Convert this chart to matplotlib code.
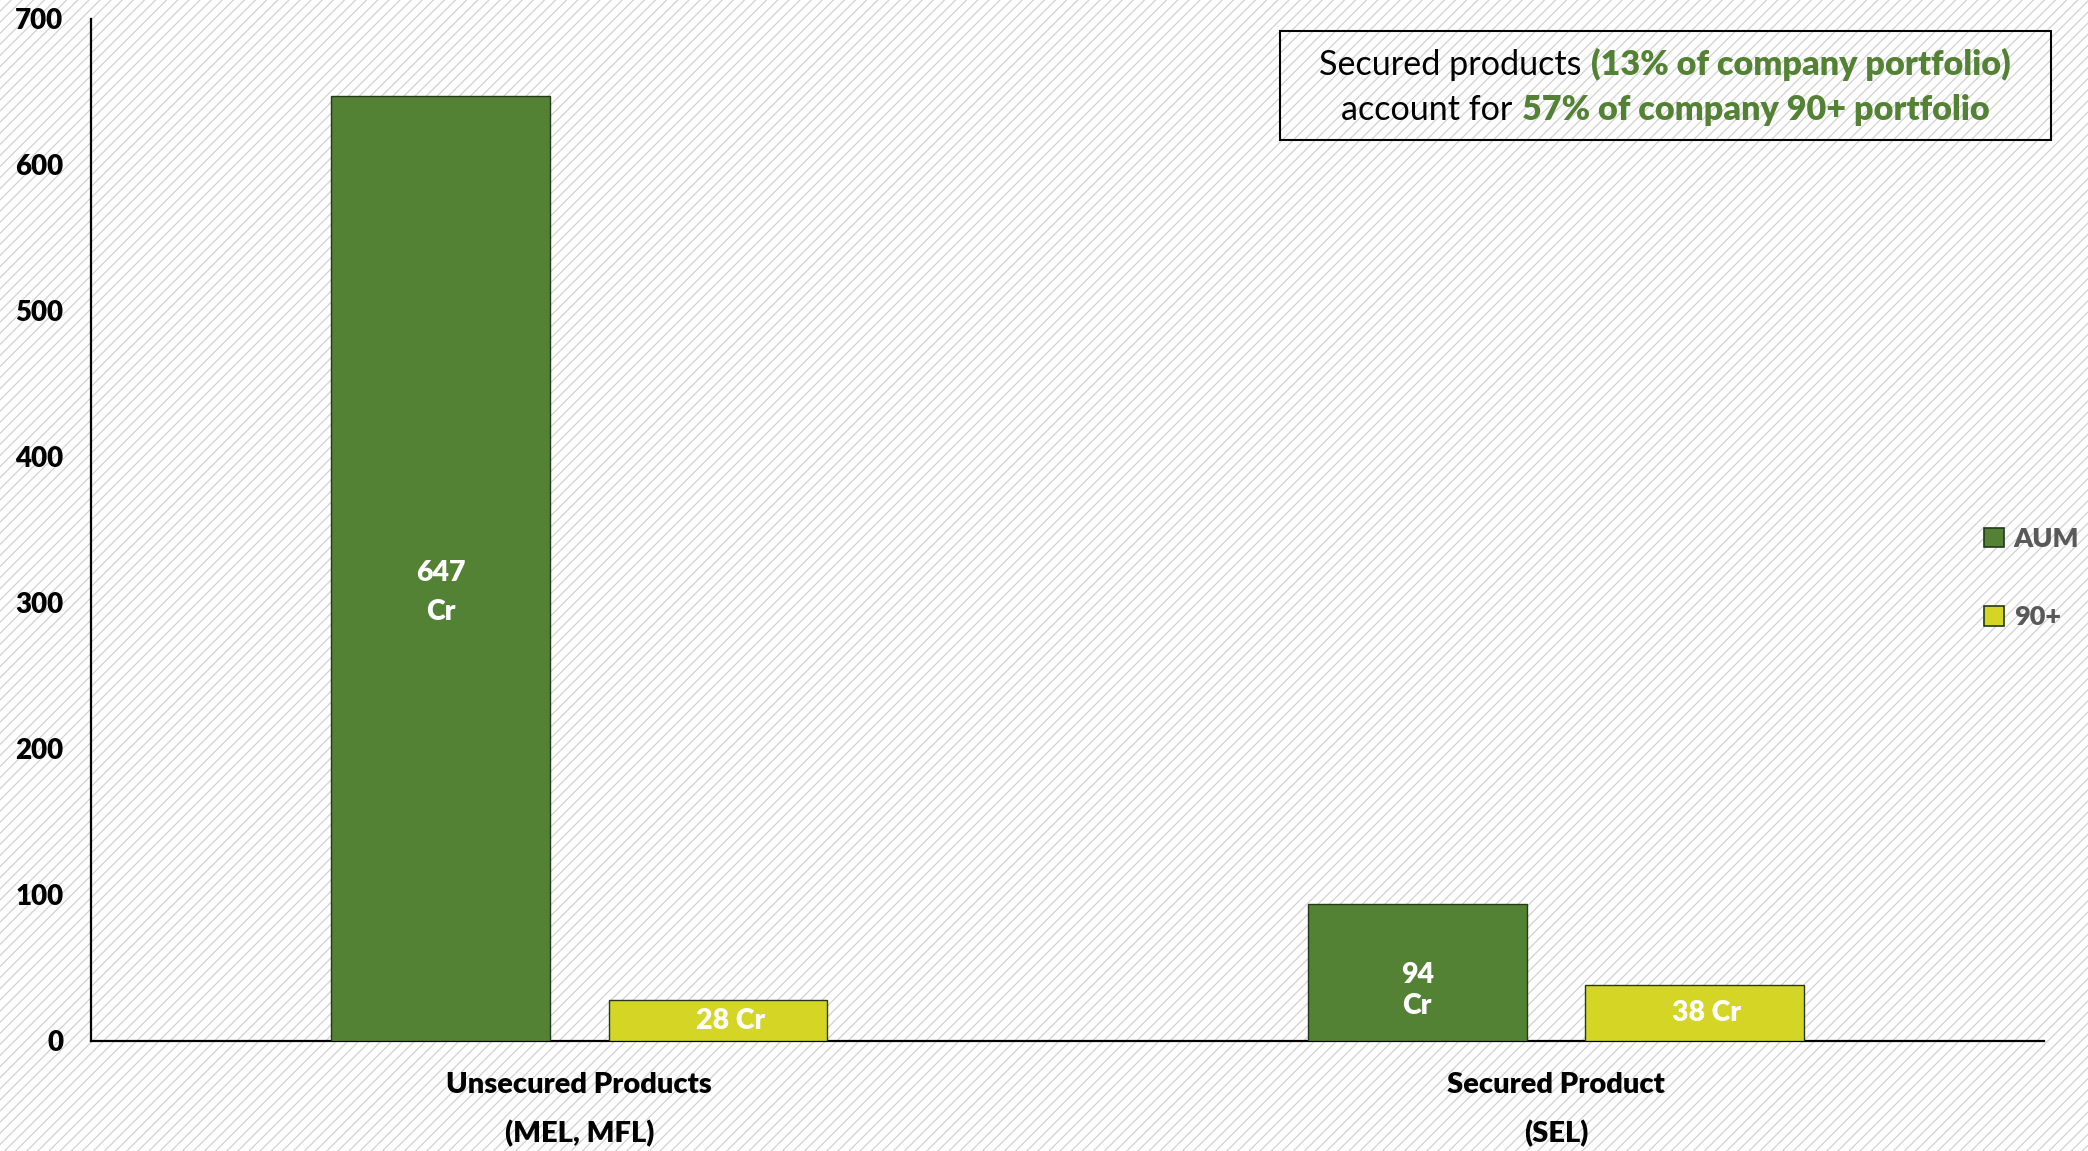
import matplotlib
matplotlib.use("Agg")
import matplotlib.pyplot as plt
from matplotlib.patches import Rectangle, Patch
from matplotlib.offsetbox import TextArea, HPacker, VPacker, AnnotationBbox

plt.rcParams['font.family'] = ['Lato', 'DejaVu Sans']
plt.rcParams['hatch.linewidth'] = 0.9

categories = ['Unsecured Products\n(MEL, MFL)', 'Secured Product\n(SEL)']
aum = [647, 94]
npa = [28, 38]
aum_labels = ['647\nCr', '94\nCr']
npa_labels = ['28 Cr', '38 Cr']
y_ticks = [0, 100, 200, 300, 400, 500, 600, 700]

GREEN = '#548235'
YELLOW = '#D4D524'
EDGE = '#23391A'

fig = plt.figure(figsize=(20.88, 11.51), dpi=100)

# hatched background across the whole figure
fig.patches.append(Rectangle((0, 0), 1, 1, transform=fig.transFigure,
                             facecolor='white', edgecolor='#D2D2D2',
                             linewidth=0, hatch='///', zorder=-10))

ax = fig.add_axes([0.0436, 0.0956, 0.9354, 0.888])
ax.set_facecolor('none')

x = list(range(len(categories)))
w = 0.224
off = 0.142
ax.bar([i - off for i in x], aum, w, color=GREEN, edgecolor=EDGE, linewidth=1, label='AUM', zorder=3)
ax.bar([i + off for i in x], npa, w, color=YELLOW, edgecolor=EDGE, linewidth=1, label='90+', zorder=3)

# two-line labels inside the AUM bars (the narrow one wraps tighter)
aum_lab_dy = [-17, -13]
aum_lab_ls = [1.6, 1.25]
for i, v in enumerate(aum):
    ax.annotate(aum_labels[i], (i - off, v / 2), xytext=(0, aum_lab_dy[i]), textcoords='offset points',
                ha='center', va='center', color='white', fontsize=20.5, fontweight='heavy',
                linespacing=aum_lab_ls[i], zorder=4)
for i, v in enumerate(npa):
    ax.annotate(npa_labels[i], (i + off, v / 2), xytext=(9, 0), textcoords='offset points',
                ha='center', va='center', color='white', fontsize=20.5, fontweight='heavy', zorder=4)

ax.set_xlim(-0.5, 1.5)
ax.set_ylim(0, 700)
ax.set_yticks(y_ticks)
ax.set_yticklabels([str(t) for t in y_ticks], fontsize=20, fontweight='heavy')
ax.set_xticks(x)
ax.set_xticklabels(categories, fontsize=21, fontweight='heavy', linespacing=2.0)
ax.tick_params(axis='y', length=0, pad=20)
ax.tick_params(axis='x', length=0, pad=22)
for s in ['top', 'right']:
    ax.spines[s].set_visible(False)
for s in ['left', 'bottom']:
    ax.spines[s].set_linewidth(1.6)
    ax.spines[s].set_color('black')

handles = [Patch(facecolor=GREEN, edgecolor=EDGE, linewidth=1.2),
           Patch(facecolor=YELLOW, edgecolor=EDGE, linewidth=1.2)]
leg = fig.legend(handles, ['AUM', '90+'], loc='center left',
                 bbox_to_anchor=(1984 / 2088, 1 - 578 / 1151), frameon=False,
                 handlelength=0.75, handleheight=0.75, handletextpad=0.35,
                 labelspacing=2.0, borderpad=0, borderaxespad=0,
                 prop={'size': 19.5, 'weight': 'heavy'})
for t in leg.get_texts():
    t.set_color('#595959')

# callout box, top right
fig.patches.append(Rectangle((1280 / 2088, 1 - 140 / 1151), 771 / 2088, 109 / 1151,
                             transform=fig.transFigure, facecolor='none',
                             edgecolor='black', linewidth=1.5, zorder=5))
fs = 24.6
line1 = HPacker(children=[TextArea('Secured products', textprops=dict(fontsize=fs, color='black')),
                          TextArea('(13% of company portfolio)',
                                   textprops=dict(fontsize=fs, color=GREEN, fontweight='heavy'))],
                align='baseline', pad=0, sep=7)
line2 = HPacker(children=[TextArea('account for', textprops=dict(fontsize=fs, color='black')),
                          TextArea('57% of company 90+ portfolio',
                                   textprops=dict(fontsize=fs, color=GREEN, fontweight='heavy'))],
                align='baseline', pad=0, sep=7)
block = VPacker(children=[line1, line2], align='center', pad=0, sep=10)
ab = AnnotationBbox(block, (1665 / 2088, 1 - 87 / 1151), xycoords='figure fraction',
                    frameon=False, box_alignment=(0.5, 0.5))
fig.add_artist(ab)

fig.savefig('out.png', dpi=100)
